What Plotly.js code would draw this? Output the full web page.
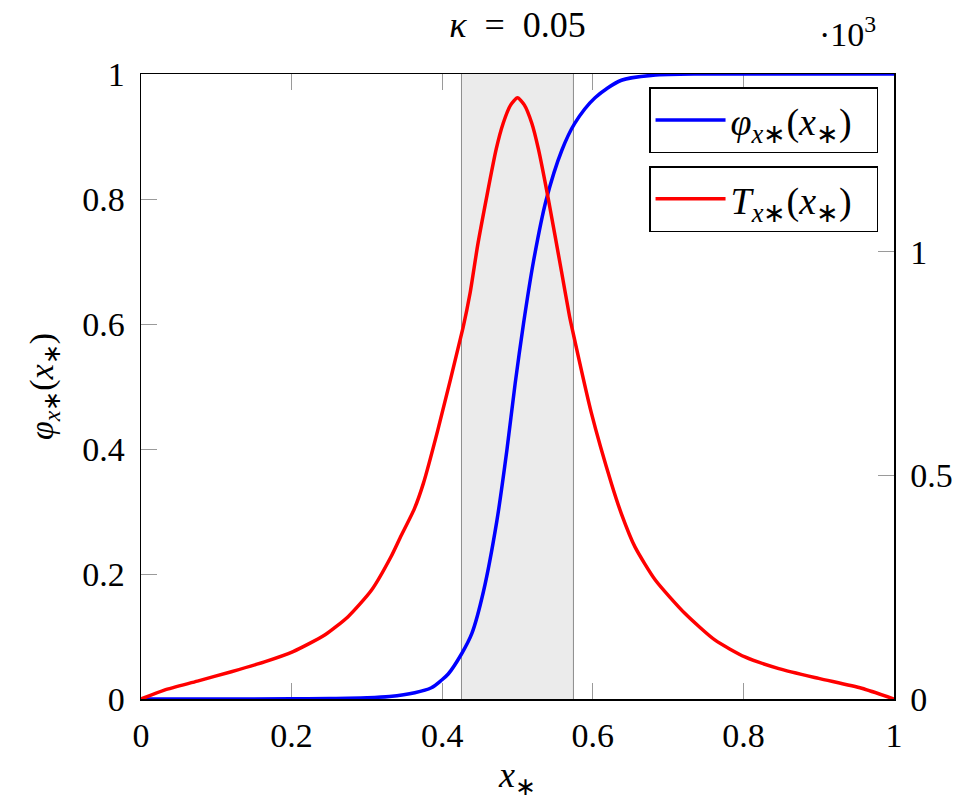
<!DOCTYPE html>
<html>
<head>
<meta charset="utf-8">
<script src="https://cdn.plot.ly/plotly-3.0.1.min.js"></script>
<style>html,body{margin:0;padding:0;background:#fff;}#chart{width:970px;height:800px;}</style>
</head>
<body>
<div id="chart"></div>
<script>
// phi_{x*}(x*) (left axis)
const phiX = [0, 0.1, 0.2, 0.25, 0.3, 0.33, 0.3635, 0.3856, 0.399, 0.408, 0.4256, 0.4394, 0.4548, 0.4726, 0.4859, 0.4969, 0.5079, 0.5212, 0.538, 0.5589, 0.576, 0.603, 0.638, 0.68, 0.75, 1.0];
const phiY = [0, 0, 0.0003, 0.0008, 0.002, 0.004, 0.01, 0.018, 0.03, 0.04, 0.072, 0.105, 0.172, 0.285, 0.398, 0.505, 0.60, 0.70, 0.798, 0.878, 0.921, 0.962, 0.99, 0.998, 1.0, 1.0];
// T_{x*}(x*) (right axis, actual values; axis shows units of 10^3)
const tX = [0, 0.031, 0.075, 0.12, 0.164, 0.202, 0.244, 0.275, 0.306, 0.332, 0.344, 0.363, 0.375, 0.394, 0.4277, 0.4371, 0.4477, 0.4717, 0.481, 0.491, 0.5, 0.509, 0.519, 0.5278, 0.541, 0.5585, 0.569, 0.5723, 0.598, 0.625, 0.638, 0.656, 0.683, 0.7225, 0.762, 0.802, 0.847, 0.9, 0.957, 1.0];
const tY = [0, 20, 40, 61, 83, 106, 143, 184, 243, 318, 360, 425, 482, 600, 830, 908, 1020, 1229, 1287, 1328, 1344, 1328, 1287, 1229, 1117, 955, 856, 830, 640, 480, 414, 340, 266, 191, 132, 94, 68, 46, 24, 0];
// shaded band
const bandX = [0.4256, 0.5743];
const xTicks = [0, 0.2, 0.4, 0.6, 0.8, 1];
const yTicks = [0, 0.2, 0.4, 0.6, 0.8, 1];
const y2Ticks = [0, 500, 1000];
const y2TickText = ["0", "0.5", "1"];

const FONT = "Liberation Serif, Times New Roman, serif";
const NB = "\u00a0";

const traces = [
  {x: phiX, y: phiY, type: 'scatter', mode: 'lines', line: {color: '#0000ff', width: 3.5, shape: 'spline', smoothing: 0.8},
   name: '<i>φ</i><sub><i>x</i>∗</sub>(<i>x</i><sub>∗</sub>)' + NB + NB, legend: 'legend', yaxis: 'y'},
  {x: tX, y: tY, type: 'scatter', mode: 'lines', line: {color: '#ff0000', width: 3.5, shape: 'spline', smoothing: 0.6},
   name: '<i>T</i><sub><i>x</i>∗</sub>(<i>x</i><sub>∗</sub>)' + NB + NB, legend: 'legend2', yaxis: 'y2'}
];

const axisCommon = {
  showgrid: false, zeroline: false, ticks: 'inside', ticklen: 16, tickwidth: 1,
  tickcolor: '#9a9a9a', showline: true, linecolor: '#000', linewidth: 1.5,
  tickfont: {family: FONT, size: 34, color: '#000'}, layer: 'below traces'
};

const legendCommon = {
  x: 0.9788, xanchor: 'right', yanchor: 'top', bgcolor: '#fff',
  bordercolor: '#000', borderwidth: 1.5, font: {family: FONT, size: 38, color: '#000'},
  itemwidth: 70
};

const layout = {
  width: 970, height: 800,
  margin: {l: 141, r: 76, t: 74, b: 101},
  paper_bgcolor: '#fff', plot_bgcolor: '#fff',
  font: {family: FONT, color: '#000'},
  title: {text: '<i>κ</i>\u2002=\u20020.05', font: {family: FONT, size: 36, color: '#000'},
          x: 0.5, xref: 'paper', xanchor: 'center', y: 0.969, yref: 'container', yanchor: 'middle'},
  xaxis: Object.assign({}, axisCommon, {
    range: [0, 1], tickvals: xTicks, ticktext: xTicks.map(String), mirror: 'ticks',
    ticklabelstandoff: 6,
    title: {text: '<i>x</i><sub>∗</sub>', font: {family: FONT, size: 36}, standoff: 10}
  }),
  yaxis: Object.assign({}, axisCommon, {
    range: [0, 1], tickvals: yTicks, ticktext: yTicks.map(String),
    ticklabelstandoff: 8,
    title: {text: '<i>φ</i><sub><i>x</i>∗</sub>(<i>x</i><sub>∗</sub>)', font: {family: FONT, size: 34}, standoff: 18}
  }),
  yaxis2: Object.assign({}, axisCommon, {
    range: [0, 1397], overlaying: 'y', side: 'right', tickvals: y2Ticks, ticktext: y2TickText,
    ticklabelstandoff: 8
  }),
  showlegend: true,
  legend: Object.assign({}, legendCommon, {y: 0.9787}),
  legend2: Object.assign({}, legendCommon, {y: 0.8528}),
  shapes: [
    {type: 'rect', xref: 'x', yref: 'paper', x0: bandX[0], x1: bandX[1], y0: 0, y1: 1,
     fillcolor: '#ebebeb', line: {width: 0}, layer: 'below'},
    {type: 'line', xref: 'x', yref: 'paper', x0: bandX[0], x1: bandX[0], y0: 0, y1: 1,
     line: {color: '#8c8c8c', width: 1}, layer: 'below'},
    {type: 'line', xref: 'x', yref: 'paper', x0: bandX[1], x1: bandX[1], y0: 0, y1: 1,
     line: {color: '#8c8c8c', width: 1}, layer: 'below'}
  ],
  annotations: [
    {text: '·10<sup>3</sup>', xref: 'paper', yref: 'paper', x: 0.979, y: 1.03, xanchor: 'right', yanchor: 'bottom',
     showarrow: false, font: {family: FONT, size: 34, color: '#000'}}
  ]
};

Plotly.newPlot('chart', traces, layout, {displayModeBar: false, staticPlot: true});
</script>
</body>
</html>
